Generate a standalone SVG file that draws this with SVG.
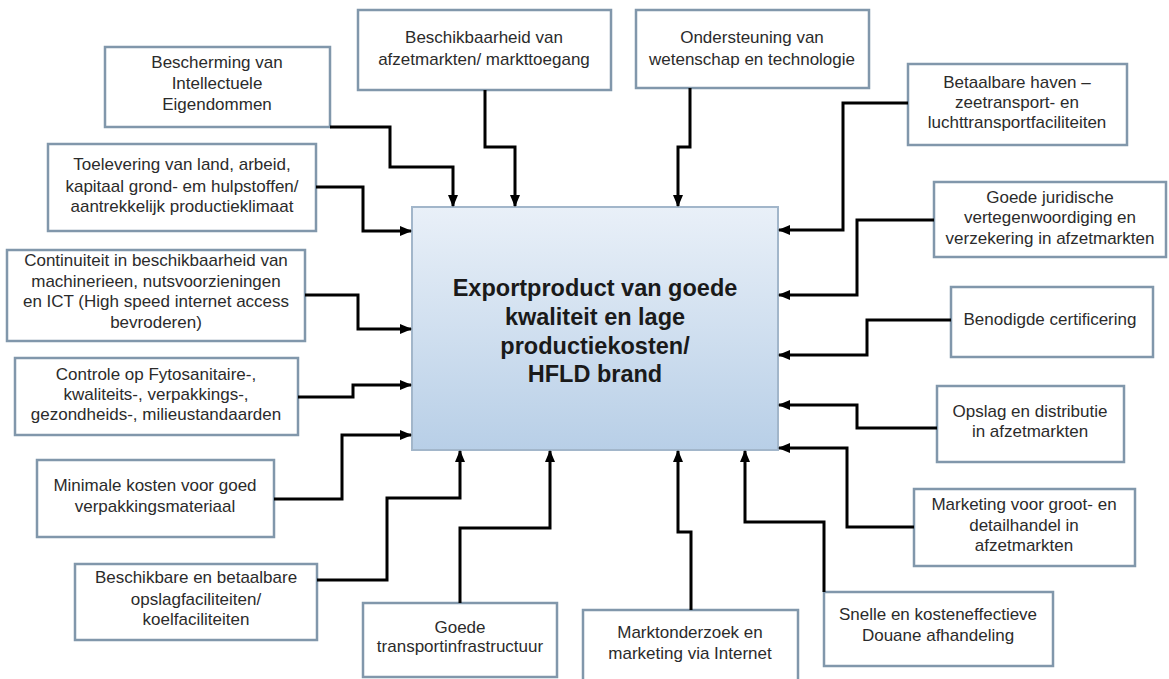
<svg xmlns="http://www.w3.org/2000/svg" width="1169" height="679" viewBox="0 0 1169 679">
<style>
.box{fill:#ffffff;stroke:#8197ab;stroke-width:2.5}
.t{font-family:"Liberation Sans",Arial,sans-serif;font-size:17px;fill:#2b2b2b;text-anchor:middle}
.ct{font-family:"Liberation Sans",Arial,sans-serif;font-size:23.5px;font-weight:bold;fill:#1a1a1a;text-anchor:middle}
.c{fill:none;stroke:#000;stroke-width:3;marker-end:url(#ah)}
</style>
<defs>
<linearGradient id="g" x1="0" y1="0" x2="0" y2="1">
<stop offset="0" stop-color="#e9f0f8"/>
<stop offset="1" stop-color="#b8cfe7"/>
</linearGradient>
<marker id="ah" markerUnits="userSpaceOnUse" markerWidth="12" markerHeight="10" refX="11" refY="5" orient="auto">
<path d="M0,0 L12,5 L0,10 Z" fill="#000"/>
</marker>
</defs>
<rect width="1169" height="679" fill="#ffffff"/>

<g id="center">
<rect x="412" y="207" width="366" height="243" fill="url(#g)" stroke="#a2b6ca" stroke-width="2"/>
<text class="ct" x="595" y="296">Exportproduct van goede</text>
<text class="ct" x="595" y="325">kwaliteit en lage</text>
<text class="ct" x="595" y="354">productiekosten/</text>
<text class="ct" x="595" y="382">HFLD brand</text>
</g>

<g id="n1"><rect class="box" x="105" y="47" width="225" height="80"/>
<text class="t" x="217" y="68">Bescherming van</text><text class="t" x="217" y="89">Intellectuele</text><text class="t" x="217" y="110">Eigendommen</text></g>

<g id="n2"><rect class="box" x="358" y="10" width="253" height="80"/>
<text class="t" x="484" y="43">Beschikbaarheid van</text><text class="t" x="484" y="65">afzetmarkten/ markttoegang</text></g>

<g id="n3"><rect class="box" x="636" y="10" width="233" height="78"/>
<text class="t" x="752" y="43">Ondersteuning van</text><text class="t" x="752" y="65">wetenschap en technologie</text></g>

<g id="n4"><rect class="box" x="908" y="64" width="219" height="81"/>
<text class="t" x="1017" y="88">Betaalbare haven –</text><text class="t" x="1017" y="108">zeetransport- en</text><text class="t" x="1017" y="128">luchttransportfaciliteiten</text></g>

<g id="n5"><rect class="box" x="934" y="182" width="232" height="75"/>
<text class="t" x="1050" y="203">Goede juridische</text><text class="t" x="1050" y="223">vertegenwoordiging en</text><text class="t" x="1050" y="244">verzekering in afzetmarkten</text></g>

<g id="n6"><rect class="box" x="951" y="287" width="202" height="70"/>
<text class="t" x="1050" y="325">Benodigde certificering</text></g>

<g id="n7"><rect class="box" x="937" y="386" width="187" height="76"/>
<text class="t" x="1030" y="417">Opslag en distributie</text><text class="t" x="1030" y="437">in afzetmarkten</text></g>

<g id="n8"><rect class="box" x="914" y="489" width="221" height="77"/>
<text class="t" x="1024" y="510">Marketing voor groot- en</text><text class="t" x="1024" y="531">detailhandel in</text><text class="t" x="1024" y="551">afzetmarkten</text></g>

<g id="n9"><rect class="box" x="824" y="592" width="229" height="74"/>
<text class="t" x="938" y="620">Snelle en kosteneffectieve</text><text class="t" x="938" y="641">Douane afhandeling</text></g>

<g id="n10"><rect class="box" x="583" y="610" width="215" height="80"/>
<text class="t" x="690" y="638">Marktonderzoek en</text><text class="t" x="690" y="659">marketing via Internet</text></g>

<g id="n11"><rect class="box" x="363" y="603" width="194" height="74"/>
<text class="t" x="460" y="633">Goede</text><text class="t" x="460" y="652">transportinfrastructuur</text></g>

<g id="n12"><rect class="box" x="75" y="564" width="242" height="76"/>
<text class="t" x="196" y="583">Beschikbare en betaalbare</text><text class="t" x="196" y="605">opslagfaciliteiten/</text><text class="t" x="196" y="625">koelfaciliteiten</text></g>

<g id="n13"><rect class="box" x="37" y="460" width="237" height="77"/>
<text class="t" x="155" y="491">Minimale kosten voor goed</text><text class="t" x="155" y="512">verpakkingsmateriaal</text></g>

<g id="n14"><rect class="box" x="15" y="358" width="283" height="77"/>
<text class="t" x="156" y="380">Controle op Fytosanitaire-,</text><text class="t" x="156" y="400">kwaliteits-, verpakkings-,</text><text class="t" x="156" y="420">gezondheids-, milieustandaarden</text></g>

<g id="n15"><rect class="box" x="7" y="250" width="298" height="91"/>
<text class="t" x="156" y="266">Continuiteit in beschikbaarheid van</text><text class="t" x="156" y="287">machinerieen, nutsvoorzieningen</text><text class="t" x="156" y="307">en ICT (High speed internet access</text><text class="t" x="156" y="328">bevroderen)</text></g>

<g id="n16"><rect class="box" x="48" y="144" width="268" height="87"/>
<text class="t" x="182" y="170">Toelevering van land, arbeid,</text><text class="t" x="182" y="192">kapitaal grond- em hulpstoffen/</text><text class="t" x="182" y="212">aantrekkelijk productieklimaat</text></g>

<g id="connectors">
<path class="c" d="M330,127 H390 V167 H453 V206"/>
<path class="c" d="M485,90 V147 H515 V206"/>
<path class="c" d="M690,88 V147 H678 V206"/>
<path class="c" d="M908,103 H843 V230 H779"/>
<path class="c" d="M934,220 H857 V295 H779"/>
<path class="c" d="M951,320 H867 V355 H779"/>
<path class="c" d="M937,428 H857 V405 H779"/>
<path class="c" d="M914,527 H847 V448 H779"/>
<path class="c" d="M824,592 V522 H745 V451"/>
<path class="c" d="M691,610 V532 H678 V451"/>
<path class="c" d="M460,603 V528 H550 V451"/>
<path class="c" d="M317,580 H387 V498 H460 V451"/>
<path class="c" d="M274,499 H342 V435 H411"/>
<path class="c" d="M298,397 H353 V385 H411"/>
<path class="c" d="M305,295 H358 V329 H411"/>
<path class="c" d="M316,187 H363 V231 H411"/>
</g>
</svg>
